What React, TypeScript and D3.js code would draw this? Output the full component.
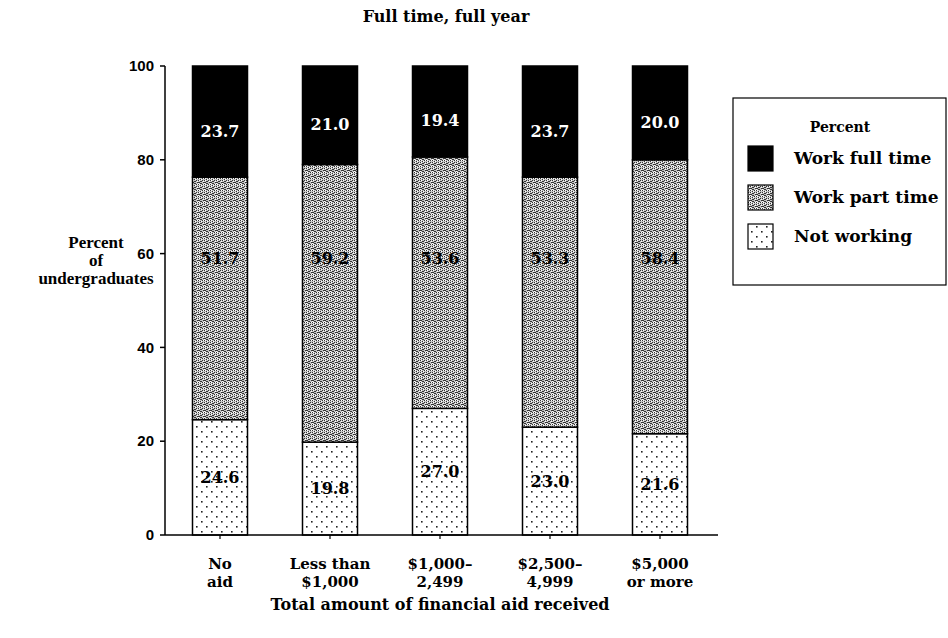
import React from "react";
import * as d3 from "d3";

const categories = ["No aid", "Less than $1,000", "$1,000–2,499", "$2,500–4,999", "$5,000 or more"];
const categoryLines = [["No", "aid"], ["Less than", "$1,000"], ["$1,000–", "2,499"], ["$2,500–", "4,999"], ["$5,000", "or more"]];
const notWorking = [24.6, 19.8, 27.0, 23.0, 21.6];
const workPartTime = [51.7, 59.2, 53.6, 53.3, 58.4];
const workFullTime = [23.7, 21.0, 19.4, 23.7, 20.0];
const yTicks = [0, 20, 40, 60, 80, 100];
const seriesNames = ["Work full time", "Work part time", "Not working"];

const W = 948, H = 638;
const serif = "'DejaVu Serif', 'Liberation Serif', serif";
const serif2 = "'Liberation Serif', 'DejaVu Serif', serif";
const sans = "'Liberation Sans', Arial, sans-serif";

// fixed texture pixel offsets for speckle pattern (texture, not data)
const speckDark = [[0,0],[2,1],[4,0],[1,2],[3,3],[5,2],[0,4],[2,5],[4,4],[3,1],[0,2],[2,3]];
const speckWhite = [[1,0],[5,1],[3,5],[0,3],[5,4],[1,4]];

export default function App() {
  const x = d3.scaleBand().domain(categories).range([165, 715]).paddingInner(0.5).paddingOuter(0.25);
  const y = d3.scaleLinear().domain([0, 100]).range([535, 66]);
  const bw = x.bandwidth();

  const stackData = categories.map((c, i) => ({ c, nw: notWorking[i], pt: workPartTime[i], ft: workFullTime[i] }));
  const stack = d3.stack<any>().keys(["nw", "pt", "ft"])(stackData);
  const fills: Record<string, string> = { nw: "url(#dots)", pt: "url(#speck)", ft: "#000" };

  return (
    <svg width={W} height={H} style={{ display: "block", position: "absolute", left: 0, top: 0 }}>
      <defs>
        <pattern id="speck" width="6" height="6" patternUnits="userSpaceOnUse">
          <rect width="6" height="6" fill="#c4c4c4" />
          {speckDark.map(([a, b], k) => <rect key={k} x={a} y={b} width="1" height="1" fill="#333" />)}
          {speckWhite.map(([a, b], k) => <rect key={"w" + k} x={a} y={b} width="1" height="1" fill="#fff" />)}
        </pattern>
        <pattern id="dots" width="10" height="10" patternUnits="userSpaceOnUse">
          <rect width="10" height="10" fill="#fff" />
          <rect x="1" y="1" width="1.6" height="1.6" fill="#222" />
          <rect x="6" y="6" width="1.6" height="1.6" fill="#222" />
        </pattern>
      </defs>
      <rect width={W} height={H} fill="#fff" />

      <text x={446} y={22} textAnchor="middle" fontFamily={serif} fontSize={16} fontWeight="bold">Full time, full year</text>

      {/* bars */}
      {stack.map((layer) => (
        <g key={layer.key}>
          {layer.map((d, i) => (
            <rect key={i} x={x(categories[i])} y={y(d[1])} width={bw} height={y(d[0]) - y(d[1])}
              fill={fills[layer.key]} stroke="#000" strokeWidth={1.5} />
          ))}
        </g>
      ))}

      {/* value labels */}
      {stack.map((layer) => layer.map((d, i) => {
        const cx = (x(categories[i]) as number) + bw / 2;
        const val = d[1] - d[0];
        let yy: number;
        if (layer.key === "nw") yy = y((d[0] + d[1]) / 2);
        else if (layer.key === "pt") yy = y(59);
        else yy = y((d[0] + d[1]) / 2 - 2);
        return (
          <text key={layer.key + i} x={cx} y={yy} dy="0.35em" textAnchor="middle" fontFamily={serif}
            fontSize={16} fontWeight="bold" fill={layer.key === "ft" ? "#fff" : "#000"}>{val.toFixed(1)}</text>
        );
      }))}

      {/* axes */}
      <line x1={165} x2={165} y1={y(100)} y2={y(0)} stroke="#000" strokeWidth={1.5} />
      <line x1={165} x2={718} y1={y(0)} y2={y(0)} stroke="#000" strokeWidth={1.5} />
      {yTicks.map((t) => (
        <g key={t}>
          <line x1={160} x2={165} y1={y(t)} y2={y(t)} stroke="#000" strokeWidth={1.5} />
          <text x={154} y={y(t)} dy="0.35em" textAnchor="end" fontFamily={sans} fontSize={15} fontWeight="bold">{t}</text>
        </g>
      ))}
      {categories.map((c, i) => {
        const cx = (x(c) as number) + bw / 2;
        return (
          <g key={c}>
            <line x1={cx} x2={cx} y1={y(0)} y2={y(0) + 4} stroke="#000" strokeWidth={1.2} />
            {categoryLines[i].map((l, k) => (
              <text key={k} x={cx} y={569 + k * 18} textAnchor="middle" fontFamily={serif} fontSize={15} fontWeight="bold">{l}</text>
            ))}
          </g>
        );
      })}

      <text x={440} y={610} textAnchor="middle" fontFamily={serif} fontSize={16} fontWeight="bold">Total amount of financial aid received</text>

      {["Percent", "of", "undergraduates"].map((l, k) => (
        <text key={l} x={96} y={248 + k * 18} textAnchor="middle" fontFamily={serif2} fontSize={17} fontWeight="bold">{l}</text>
      ))}

      {/* legend */}
      <rect x={733} y={98} width={213} height={187} fill="none" stroke="#000" strokeWidth={1.2} />
      <text x={840} y={132} textAnchor="middle" fontFamily={serif} fontSize={14} fontWeight="bold">Percent</text>
      {seriesNames.map((s, k) => {
        const yy = 146 + k * 39;
        const f = k === 0 ? "#000" : k === 1 ? "url(#speck)" : "url(#dots)";
        return (
          <g key={s}>
            <rect x={748} y={yy} width={25} height={25} fill={f} stroke="#000" strokeWidth={1.2} />
            <text x={794} y={yy + 12.5} dy="0.35em" fontFamily={serif} fontSize={17} fontWeight="bold">{s}</text>
          </g>
        );
      })}
    </svg>
  );
}
